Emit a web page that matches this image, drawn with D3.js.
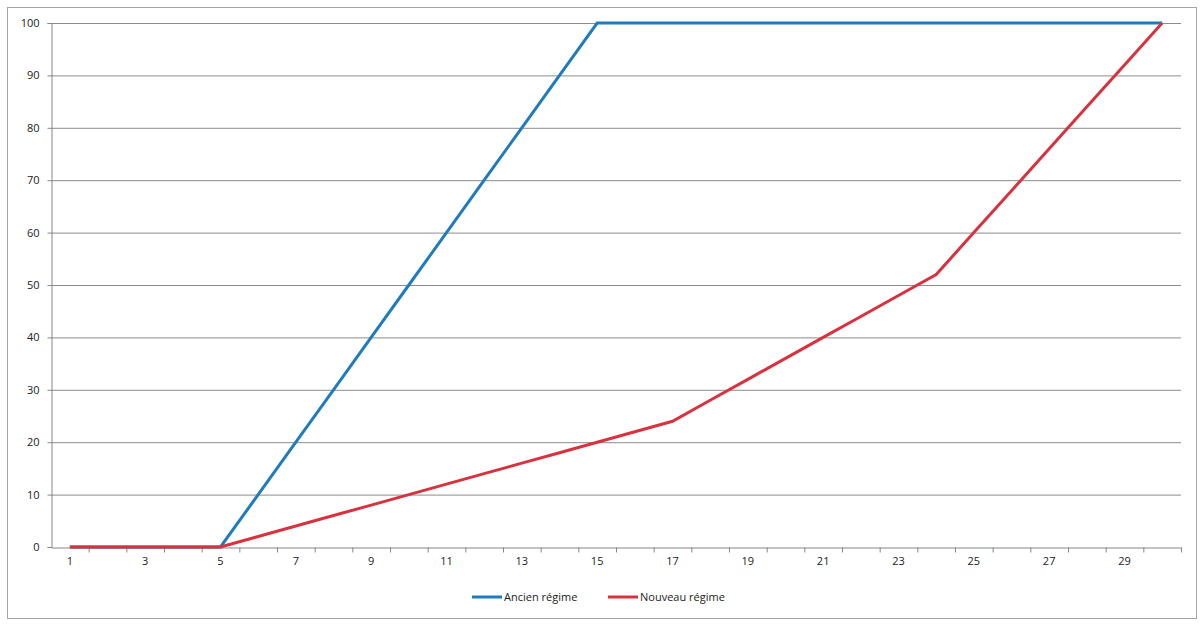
<!DOCTYPE html>
<html><head><meta charset="utf-8">
<script src="https://cdn.jsdelivr.net/npm/d3@7"></script>
<style>body{margin:0;background:#fff;font-family:"Open Sans",sans-serif;}</style>
</head><body><div id="chart"></div>
<script>
// data
const days = d3.range(1, 31);
const ancien = [0,0,0,0,0,10,20,30,40,50,60,70,80,90,100,100,100,100,100,100,100,100,100,100,100,100,100,100,100,100];
const nouveau = [0,0,0,0,0,2,4,6,8,10,12,14,16,18,20,22,24,28,32,36,40,44,48,52,60,68,76,84,92,100];
const yTicks = [0,10,20,30,40,50,60,70,80,90,100];
const seriesNames = ["Ancien régime", "Nouveau régime"];
const colors = ["#1f7bbd", "#d9323f"];

const W = 1204, H = 625;
const margin = { top: 23, right: 23, bottom: 78, left: 51 };
const width = W - margin.left - margin.right,
      height = H - margin.top - margin.bottom;

const root = d3.select("#chart").append("svg").attr("width", W).attr("height", H);
root.append("rect").attr("x", 7.5).attr("y", 7.5).attr("width", 1189).attr("height", 611)
  .attr("fill", "none").attr("stroke", "#a6a6a6");

const svg = root.append("g").attr("transform", `translate(${margin.left},${margin.top})`);

const x = d3.scaleBand().domain(days).range([0, width]);
const y = d3.scaleLinear().domain([0, 100]).range([height, 0]);

// gridlines
svg.selectAll(".grid").data(yTicks.slice(1)).enter().append("line")
  .attr("x1", 0).attr("x2", width)
  .attr("y1", d => y(d) + 0.5).attr("y2", d => y(d) + 0.5)
  .attr("stroke", "#8c8c8c").attr("stroke-width", 1);

// y axis
const yAxis = svg.append("g").attr("transform", "translate(0.5,0)")
  .call(d3.axisLeft(y).tickValues(yTicks).tickSize(4).tickPadding(8));
// x axis with ticks on band edges
const xAxis = svg.append("g").attr("transform", `translate(0,${height + 0.5})`)
  .call(d3.axisBottom(x).tickValues(days.filter(d => d % 2 === 1)).tickSize(0).tickPadding(10));
xAxis.selectAll(".edge").data(days).enter().append("line")
  .attr("x1", d => x(d) + x.bandwidth() + 0.5).attr("x2", d => x(d) + x.bandwidth() + 0.5)
  .attr("y1", 0).attr("y2", 5).attr("stroke", "#868686");
[yAxis, xAxis].forEach(a => {
  a.selectAll(".domain").attr("stroke", "#868686");
  a.selectAll(".tick line").attr("stroke", "#868686");
  a.selectAll("text").attr("fill", "#222").style("font-size", "11px").style("font-family", "Open Sans, sans-serif");
});

// lines
const line = d3.line().x((d, i) => x(days[i]) + x.bandwidth() / 2).y(d => y(d));
[ancien, nouveau].forEach((s, i) => {
  svg.append("path").attr("d", line(s)).attr("fill", "none")
    .attr("stroke", colors[i]).attr("stroke-width", 3);
});

// legend
const legend = root.append("g").attr("transform", "translate(472,597)");
const lx = [0, 136];
seriesNames.forEach((n, i) => {
  const g = legend.append("g").attr("transform", `translate(${lx[i]},0)`);
  g.append("line").attr("x1", 0).attr("x2", 30).attr("stroke", colors[i]).attr("stroke-width", 3);
  g.append("text").attr("x", 32).attr("y", 4).text(n)
    .style("font-size", "11px").attr("fill", "#222");
});
</script></body></html>
